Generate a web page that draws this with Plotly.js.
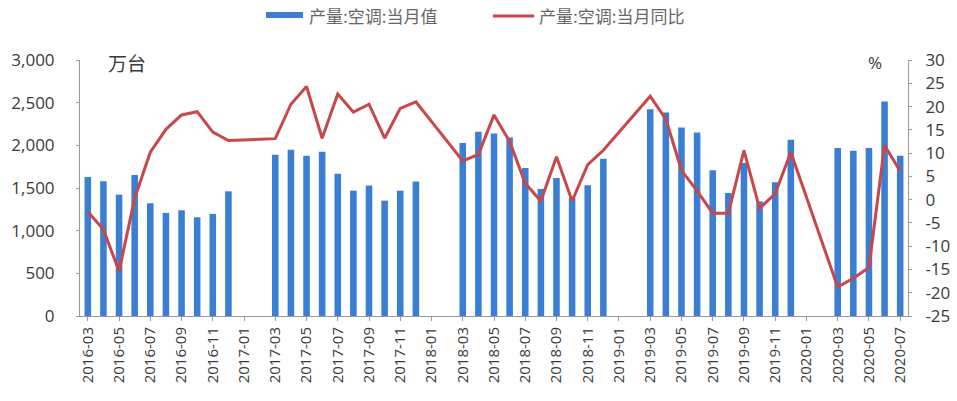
<!DOCTYPE html>
<html>
<head>
<meta charset="utf-8">
<script src="https://cdn.plot.ly/plotly-3.0.1.min.js"></script>
<style>html,body{margin:0;padding:0;background:#fff;}#chart{width:957px;height:401px;}</style>
</head>
<body>
<div id="chart"></div>
<script>
// months from 2016-03 to 2020-07
var categories = [
  "2016-03","2016-04","2016-05","2016-06","2016-07","2016-08","2016-09","2016-10","2016-11","2016-12",
  "2017-01","2017-02","2017-03","2017-04","2017-05","2017-06","2017-07","2017-08","2017-09","2017-10","2017-11","2017-12",
  "2018-01","2018-02","2018-03","2018-04","2018-05","2018-06","2018-07","2018-08","2018-09","2018-10","2018-11","2018-12",
  "2019-01","2019-02","2019-03","2019-04","2019-05","2019-06","2019-07","2019-08","2019-09","2019-10","2019-11","2019-12",
  "2020-01","2020-02","2020-03","2020-04","2020-05","2020-06","2020-07"
];
// 产量:空调:当月值 (万台)
var production = [
  1630,1578,1422,1653,1321,1208,1239,1157,1197,1461,
  null,null,1890,1949,1878,1925,1668,1469,1528,1352,1469,1575,
  null,null,2027,2159,2139,2092,1735,1489,1618,1384,1531,1843,
  null,null,2424,2385,2209,2151,1707,1442,1793,1344,1566,2066,
  null,null,1968,1937,1968,2513,1878
];
// 产量:空调:当月同比 (%)
var yoy = [
  -2.6,-6.4,-15.4,0.3,10.2,15.1,18.2,18.9,14.5,12.7,
  null,null,13.1,20.5,24.3,13.2,22.7,18.8,20.5,13.2,19.6,21.0,
  null,null,8.3,9.7,18.2,12.5,3.5,-0.3,9.2,-0.3,7.5,10.6,
  null,null,22.2,17.3,6.3,1.9,-2.9,-2.9,10.6,-1.9,1.3,10.2,
  null,null,-18.8,-16.9,-14.6,11.7,6.1
];
var tickLabels = categories.filter(function(c, i){ return i % 2 === 0; });
var rightTickVals = [-25,-20,-15,-10,-5,0,5,10,15,20,25,30];
var rightTickText = ["-25","-20","-15","-10","-5","0","5","10","15","20","25","30"];
var seriesNames = ["产量:空调:当月值", "产量:空调:当月同比"];

var barColor = "#3a7fd3";
var lineColor = "#c8474a";
var axisFont = {family: "Open Sans, Noto Sans, sans-serif", size: 15, color: "#3a3a3a"};
var legendFont = {family: "Noto Sans CJK SC, sans-serif", size: 17, color: "#666"};

var traces = [
  {
    type: "bar", x: categories, y: production, name: seriesNames[0],
    marker: {color: barColor}, yaxis: "y", showlegend: false
  },
  {
    type: "scatter", mode: "lines", x: categories, y: yoy, name: seriesNames[1],
    line: {color: lineColor, width: 3}, connectgaps: true, yaxis: "y2", showlegend: false
  }
];

var layout = {
  width: 957, height: 401,
  margin: {l: 80, r: 49, t: 60, b: 85, autoexpand: false},
  paper_bgcolor: "#fff", plot_bgcolor: "#fff",
  bargap: 0.58,
  showlegend: false,
  xaxis: {
    type: "category", categoryorder: "array", categoryarray: categories,
    tickmode: "array", tickvals: tickLabels, ticktext: tickLabels,
    tickangle: -90, tickfont: axisFont,
    showline: true, linecolor: "#999", linewidth: 1,
    ticks: "outside", ticklen: 4, tickcolor: "#999",
    showgrid: false, zeroline: false
  },
  yaxis: {
    range: [0, 3000], dtick: 500, tickformat: ",d",
    tickfont: Object.assign({}, axisFont, {size: 17}),
    showline: true, linecolor: "#999", linewidth: 1,
    ticks: "outside", ticklen: 3, tickcolor: "#999", ticklabelstandoff: 18,
    showgrid: false, zeroline: false
  },
  yaxis2: {
    overlaying: "y", side: "right",
    range: [-25, 30],
    tickmode: "array", tickvals: rightTickVals, ticktext: rightTickText,
    tickfont: Object.assign({}, axisFont, {size: 17}),
    showline: true, linecolor: "#999", linewidth: 1,
    ticks: "outside", ticklen: 3, tickcolor: "#999", ticklabelstandoff: 10,
    showgrid: false, zeroline: false
  },
  shapes: [
    {type: "rect", xref: "paper", yref: "paper", x0: (266-80)/828, x1: (303-80)/828,
     y0: 1 + (60-18)/256, y1: 1 + (60-12)/256, fillcolor: barColor, line: {width: 0}},
    {type: "line", xref: "paper", yref: "paper", x0: (493-80)/828, x1: (534-80)/828,
     y0: 1 + (60-16)/256, y1: 1 + (60-16)/256, line: {color: lineColor, width: 3}}
  ],
  annotations: [
    {text: seriesNames[0], xref: "paper", yref: "paper", x: (307-80)/828, y: 1 + (60-15)/256,
     xanchor: "left", yanchor: "middle", showarrow: false, font: legendFont},
    {text: seriesNames[1], xref: "paper", yref: "paper", x: (537-80)/828, y: 1 + (60-15)/256,
     xanchor: "left", yanchor: "middle", showarrow: false, font: legendFont},
    {text: "万台", xref: "paper", yref: "paper", x: (106-80)/828, y: 1 + (60-62)/256, xanchor: "left", yanchor: "middle",
     showarrow: false, font: {family: "Noto Sans CJK SC, sans-serif", size: 19, color: "#3a3a3a"}},
    {text: "%", xref: "paper", yref: "paper", x: (875-80)/828, y: 1 + (60-62)/256, xanchor: "center", yanchor: "middle",
     showarrow: false, font: {family: "Open Sans, sans-serif", size: 17, color: "#3a3a3a"}}
  ]
};

Plotly.newPlot("chart", traces, layout, {displayModeBar: false, staticPlot: true});
</script>
</body>
</html>
